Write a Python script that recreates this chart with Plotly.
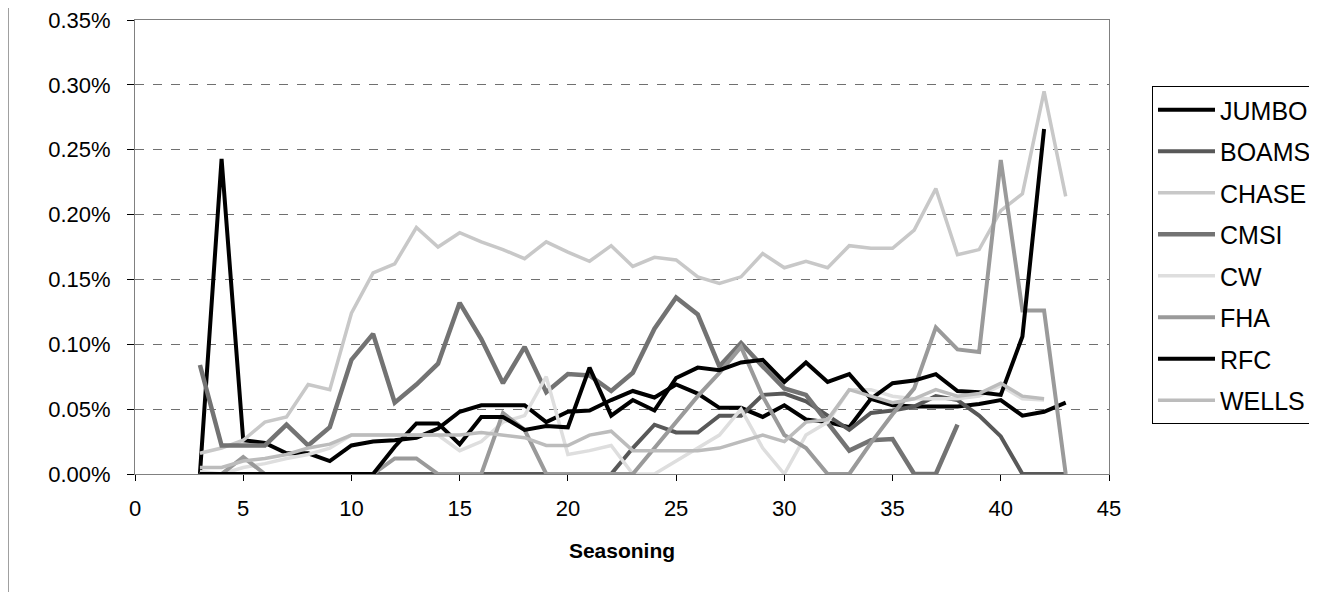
import plotly.graph_objects as go

seasoning = list(range(3, 44))

jumbo = [0, 0.243, 0.026, 0.024, 0.016, 0.016, 0.010, 0.022, 0.025, 0.026, 0.028, 0.035, 0.048, 0.053, 0.053, 0.053,
         0.040, 0.048, 0.049, 0.057, 0.064, 0.059, 0.069, 0.062, 0.051, 0.051, 0.044, 0.053, 0.042, 0.040, 0.036,
         0.058, 0.053, 0.052, 0.052, 0.052, 0.054, 0.057, 0.045, 0.048, 0.055]
boams = [0, 0, 0, 0, 0, 0, 0, 0, 0, 0, 0, 0, 0, 0, 0, 0, 0, 0, 0, 0, 0.020, 0.038, 0.032, 0.032, 0.045, 0.045,
         0.061, 0.062, 0.056, 0.045, 0.034, 0.047, 0.049, 0.052, 0.060, 0.057, 0.045, 0.029, 0, 0, 0]
chase = [0.016, 0.020, 0.026, 0.040, 0.044, 0.069, 0.065, 0.124, 0.155, 0.162, 0.190, 0.175, 0.186, 0.179, 0.173,
         0.166, 0.179, 0.171, 0.164, 0.176, 0.160, 0.167, 0.165, 0.152, 0.147, 0.152, 0.170, 0.159, 0.164, 0.159,
         0.176, 0.174, 0.174, 0.188, 0.220, 0.169, 0.173, 0.203, 0.216, 0.295, 0.214]
cmsi = [0.084, 0.022, 0.022, 0.022, 0.038, 0.022, 0.036, 0.088, 0.108, 0.055, 0.069, 0.085, 0.132, 0.104, 0.070,
        0.098, 0.063, 0.077, 0.076, 0.064, 0.078, 0.112, 0.136, 0.123, 0.083, 0.101, 0.083, 0.066, 0.061, 0.039,
        0.018, 0.026, 0.027, 0, 0, 0.038, None, None, None, None, None]
cw = [0.002, 0, 0.005, 0.008, 0.012, 0.015, 0.020, 0.030, 0.030, 0.030, 0.030, 0.030, 0.018, 0.025, 0.040, 0.045,
      0.075, 0.015, 0.018, 0.022, 0, 0, 0.010, 0.020, 0.030, 0.050, 0.020, 0, 0.030, 0.040, 0.065, 0.065, 0.060,
      0.058, 0.058, 0.058, 0.060, 0.068, 0.058, 0.057, None]
fha = [0, 0, 0.013, 0, 0, 0, 0, 0, 0, 0.012, 0.012, 0, 0, 0, 0.047, 0.034, 0, 0, 0, 0, 0, 0.020, 0.040, 0.060,
       0.078, 0.098, 0.060, 0.030, 0.020, 0, 0, 0.024, 0.046, 0.066, 0.113, 0.096, 0.094, 0.242, 0.126, 0.126, 0]
rfc = [0, 0, 0, 0, 0, 0, 0, 0, 0, 0.021, 0.039, 0.039, 0.023, 0.044, 0.044, 0.034, 0.037, 0.036, 0.082, 0.045,
       0.057, 0.049, 0.074, 0.082, 0.080, 0.086, 0.088, 0.071, 0.086, 0.071, 0.077, 0.058, 0.070, 0.072, 0.077,
       0.064, 0.063, 0.061, 0.106, 0.266, None]
wells = [0.005, 0.005, 0.010, 0.012, 0.015, 0.020, 0.023, 0.030, 0.030, 0.030, 0.030, 0.030, 0.030, 0.032, 0.030,
         0.028, 0.022, 0.022, 0.030, 0.033, 0.018, 0.018, 0.018, 0.018, 0.020, 0.025, 0.030, 0.025, 0.040, 0.042,
         0.065, 0.060, 0.055, 0.058, 0.065, 0.060, 0.062, 0.070, 0.060, 0.058, None]

series_names = ["JUMBO", "BOAMS", "CHASE", "CMSI", "CW", "FHA", "RFC", "WELLS"]
series_values = [jumbo, boams, chase, cmsi, cw, fha, rfc, wells]
series_colors = ["#000000", "#585858", "#c8c8c8", "#737373", "#dedede", "#9a9a9a", "#000000", "#bcbcbc"]
series_widths = [4, 4, 3.5, 4.5, 3.5, 4, 4, 3.5]

y_ticks = [0, 0.0005, 0.001, 0.0015, 0.002, 0.0025, 0.003, 0.0035]
x_ticks = [0, 5, 10, 15, 20, 25, 30, 35, 40, 45]

fig = go.Figure()
for name, vals, col, w in zip(series_names, series_values, series_colors, series_widths):
    fig.add_trace(go.Scatter(
        x=seasoning, y=[None if v is None else v / 100 for v in vals],
        mode="lines", name=name, legendgroup=name,
        line=dict(color=col, width=w), connectgaps=False,
    ))

FONT = "Liberation Sans, Arial, sans-serif"
W, H = 1317, 592
L, T = 127, 12
R = W - 1101
B = H - 466
pw = W - L - R
ph = H - T - B

fig.update_layout(
    width=W, height=H,
    margin=dict(l=L, r=R, t=T, b=B, autoexpand=False),
    paper_bgcolor="white", plot_bgcolor="white",
    font=dict(family=FONT, size=22, color="black"),
    showlegend=True,
    legend=dict(
        x=(1144 - L) / pw, y=(466 - 78) / ph, xanchor="left", yanchor="top",
        bordercolor="#000000", borderwidth=1, bgcolor="white",
        font=dict(family=FONT, size=25, color="black"),
        tracegroupgap=6, itemwidth=57,
    ),
    xaxis=dict(
        range=[0, 45], tickvals=x_ticks, ticks="outside", ticklen=6, tickcolor="#000",
        showgrid=False, zeroline=False, showline=True, linecolor="#808080", linewidth=1,
        mirror=True, tickfont=dict(size=22), ticklabelstandoff=9, automargin=False,
        ticklabeloverflow="allow",
        title=dict(text="<b>Seasoning</b>", font=dict(size=21), standoff=22),
    ),
    yaxis=dict(
        range=[0, 0.0035], tickvals=y_ticks, tickformat=".2%", ticks="outside", ticklen=7,
        tickcolor="#000", showgrid=True, gridcolor="#707070", griddash="dash", gridwidth=1,
        zeroline=False, showline=True, linecolor="#808080", linewidth=1, mirror=True,
        tickfont=dict(size=22), ticklabelstandoff=12, automargin=False,
        ticklabeloverflow="allow",
    ),
)

fig.add_shape(type="line", xref="paper", yref="paper",
              x0=(0 - L) / pw, x1=(0 - L) / pw, y0=-B / ph, y1=1 + T / ph,
              line=dict(color="#a0a0a0", width=2))

fig.write_html("out.html")
